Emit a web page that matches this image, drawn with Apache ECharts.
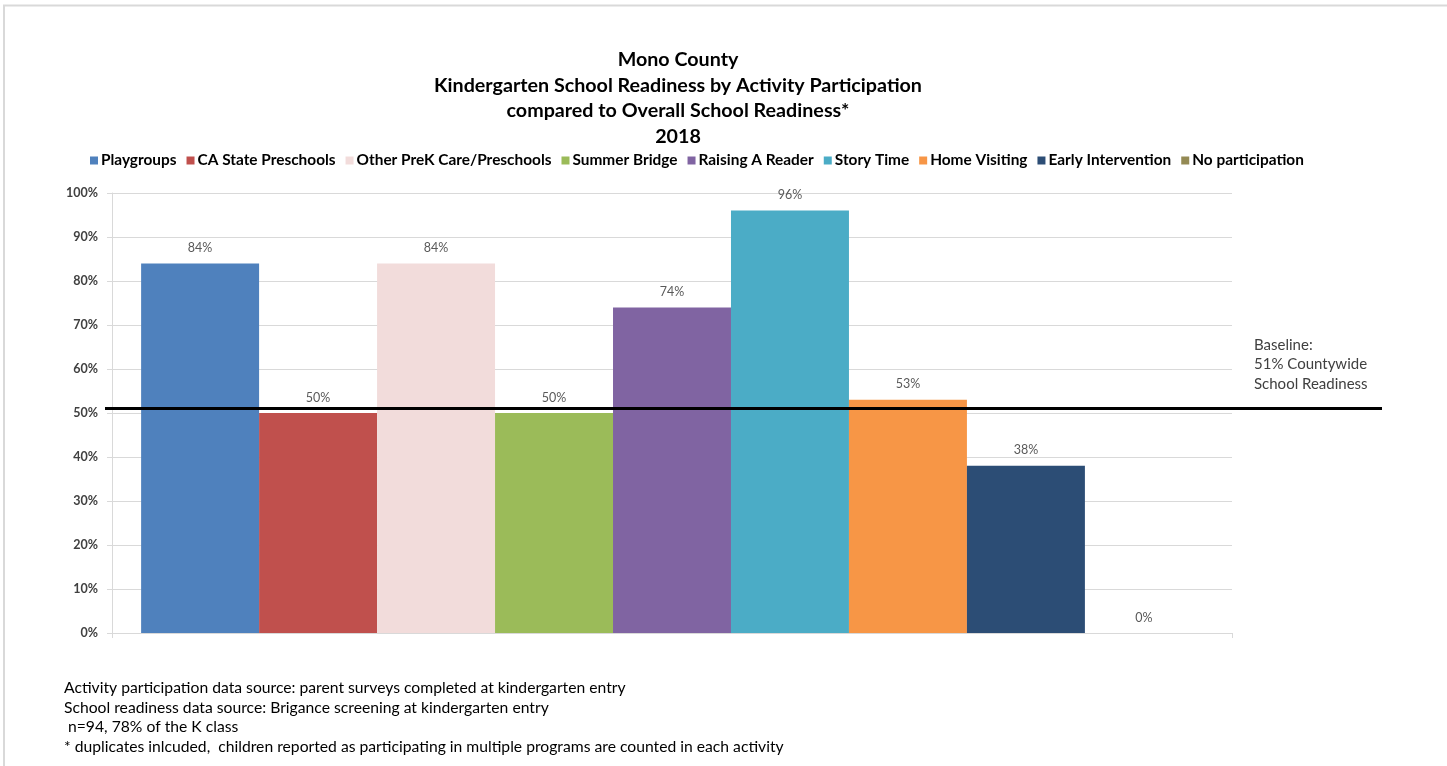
<!DOCTYPE html>
<html>
<head>
<meta charset="utf-8">
<script src="https://cdn.jsdelivr.net/npm/echarts@6/dist/echarts.min.js"></script>
<style>
html,body{margin:0;padding:0;background:#fff;}
#chart{width:1447px;height:766px;}
</style>
</head>
<body>
<div id="chart"></div>
<script>
const activities = ["Playgroups","CA State Preschools","Other PreK Care/Preschools","Summer Bridge","Raising A Reader","Story Time","Home Visiting","Early Intervention","No participation"];
const readiness = [84, 50, 84, 50, 74, 96, 53, 38, 0];
const colors = ["#4F81BD","#C0504D","#F2DCDB","#9BBB59","#8064A2","#4BACC6","#F79646","#2C4D75","#948A54"];
const baselineValue = 51;
const titleLines = ["Mono County","Kindergarten School Readiness by Activity Participation","compared to Overall School Readiness*","2018"];
const baselineLines = ["Baseline:","51% Countywide","School Readiness"];
const footnotes = ["Activity participation data source: parent surveys completed at kindergarten entry","School readiness data source: Brigance screening at kindergarten entry"," n=94, 78% of the K class","* duplicates inlcuded,  children reported as participating in multiple programs are counted in each activity"];

const FONT = "Lato, 'Liberation Sans', sans-serif";
const chart = echarts.init(document.getElementById('chart'), null, {renderer:'canvas'});

const barSeries = activities.map((name, i) => ({
  name: name,
  type: 'bar',
  xAxisIndex: 0, yAxisIndex: 0,
  data: [readiness[i]],
  barGap: 0,
  barCategoryGap: '5.2%',
  itemStyle: {color: colors[i]},
  label: {show: true, position: 'top', formatter: '{c}%', color: '#595959', fontSize: 12.5, fontFamily: FONT, distance: 9},
  emphasis: {disabled: true}
}));

chart.setOption({
  animation: false,
  backgroundColor: '#fff',
  color: colors,
  title: {
    text: titleLines.join('\n'),
    left: 673, top: 42,
    textAlign: 'center',
    textStyle: {fontFamily: FONT, fontSize: 19.7, fontWeight: 'bold', color: '#000', lineHeight: 25.5}
  },
  legend: {
    left: 90, top: 153, padding: 0,
    itemWidth: 8, itemHeight: 8, itemGap: 10,
    icon: 'rect',
    data: activities,
    textStyle: {fontFamily: FONT, fontSize: 15.4, fontWeight: 'bold', color: '#000', padding: [0,0,0,-2]}
  },
  grid: [
    {left: 112, right: 215, top: 193, bottom: 133},
    {left: 105, right: 65, top: 193, bottom: 133}
  ],
  xAxis: [
    {type: 'category', gridIndex: 0, data: [''],
     axisLine: {lineStyle: {color: '#D9D9D9'}},
     axisTick: {show: true, length: 5, lineStyle: {color: '#D9D9D9'}},
     axisLabel: {show: false}},
    {type: 'category', gridIndex: 1, data: [''], show: false}
  ],
  yAxis: [
    {type: 'value', gridIndex: 0, min: 0, max: 100, interval: 10,
     axisLine: {show: true, lineStyle: {color: '#D9D9D9'}},
     axisTick: {show: true, length: 5, lineStyle: {color: '#D9D9D9'}},
     splitLine: {lineStyle: {color: '#D9D9D9'}},
     axisLabel: {formatter: '{value}%', fontFamily: FONT, fontSize: 12.5, fontWeight: 'bold', color: '#404040', margin: 14}},
    {type: 'value', gridIndex: 1, min: 0, max: 100, show: false}
  ],
  series: barSeries.concat([{
    name: 'baseline', type: 'line', xAxisIndex: 1, yAxisIndex: 1, data: [],
    silent: true,
    markLine: {
      silent: true, symbol: ['none','none'],
      label: {show: false},
      lineStyle: {color: '#000', width: 3, type: 'solid'},
      data: [{yAxis: baselineValue}]
    }
  }]),
  graphic: [
    {type: 'polyline', shape: {points: [[4, 766], [4, 5.5], [1447, 5.5]]}, style: {stroke: '#D9D9D9', lineWidth: 2, fill: null}, silent: true},
    {type: 'text', left: 1254, top: 335, style: {text: baselineLines.join('\n'), font: '15px ' + FONT, fill: '#404040', lineHeight: 19.5}},
    {type: 'text', left: 64, top: 678, style: {text: footnotes.join('\n'), font: '15.7px ' + FONT, fill: '#000', lineHeight: 19.7}}
  ]
});
</script>
</body>
</html>
